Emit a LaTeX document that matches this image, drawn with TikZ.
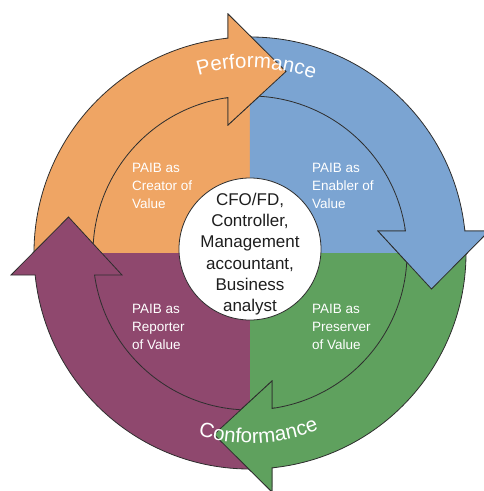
\documentclass[tikz,border=0pt]{standalone}
\usepackage{fontspec}
\setmainfont{Liberation Sans}
\usetikzlibrary{decorations.text}
\definecolor{perforange}{RGB}{239,165,100}
\definecolor{enablblue}{RGB}{123,164,210}
\definecolor{presgreen}{RGB}{95,161,94}
\definecolor{reppurple}{RGB}{143,72,110}
\definecolor{edgegray}{RGB}{45,45,45}
\definecolor{hubink}{RGB}{30,30,30}
\tikzset{
  band/.style={draw=edgegray, line width=0.8pt, line join=miter},
  lbl/.style={font=\fontsize{13.5}{18}\selectfont, text=white, align=left,
    anchor=north west, inner sep=0pt},
  hubdisc/.style={circle, draw=edgegray, line width=0.8pt, fill=white,
    minimum size=142pt, inner sep=0pt},
  hubtext/.style={font=\fontsize{17}{21.3}\selectfont, text=hubink, align=center,
    inner sep=0pt},
  arctext/.style={decorate, decoration={text along path, text align=center,
    text color=white, text={|\fontsize{20.5}{20.5}\selectfont|#1}}},
}
% one ring arrow, drawn for the top (orange) place
\newcommand{\ringarrow}{(185:216pt) arc[start angle=185, end angle=95.85, radius=216pt]
  -- (-22pt,239pt) -- (36pt,181.5pt) -- (-22pt,128pt)
  -- (98.06:157pt) arc[start angle=98.06, end angle=185, radius=157pt] -- cycle}

\begin{document}
\begin{tikzpicture}
      \useasboundingbox (-250pt,-238pt) rectangle (233pt,253pt);
      % the four quarters inside the ring
      \fill[perforange] (0,0) -- (90:157pt) arc[start angle=90, end angle=180, radius=157pt] -- cycle;
      \fill[enablblue]  (0,0) -- (0:157pt) arc[start angle=0, end angle=90, radius=157pt] -- cycle;
      \fill[presgreen]  (0,0) -- (-90:157pt) arc[start angle=-90, end angle=0, radius=157pt] -- cycle;
      \fill[reppurple]  (0,0) -- (180:157pt) arc[start angle=180, end angle=270, radius=157pt] -- cycle;
      % the ring arrows, clockwise from the top
      \foreach \col [count=\k from 0] in {perforange,enablblue,presgreen,reppurple} {
        \begin{scope}[rotate=-90*\k]
          \draw[band, fill=\col] \ringarrow;
        \end{scope}
      }
      % heads back over the next tail
      \foreach \col [count=\k from 0] in {perforange,enablblue,presgreen} {
        \begin{scope}[rotate=-90*\k]
          \clip (-25pt,110pt) rectangle (60pt,250pt);
          \draw[band, fill=\col] \ringarrow;
        \end{scope}
      }
      % the hub
      \node[hubdisc] (hub) at (0,4pt) {};
      \node[hubtext] (roles) at (0,-1pt) {CFO/FD,\\Controller,\\Management\\accountant,\\Business\\analyst};
      % the quarter labels
      \node[lbl] (creator)   at (-118pt,90pt)  {PAIB as\\Creator of\\Value};
      \node[lbl] (enabler)   at (62pt,90pt)    {PAIB as\\Enabler of\\Value};
      \node[lbl] (reporter)  at (-118pt,-51pt) {PAIB as\\Reporter\\of Value};
      \node[lbl] (preserver) at (62pt,-51pt)   {PAIB as\\Preserver\\of Value};
      % the words round the ring
      \path[arctext=Performance] (148:185pt) arc[start angle=148, end angle=28, radius=185pt];
      \path[arctext=Conformance] (-147.3:190pt) arc[start angle=-147.3, end angle=-27.3, radius=190pt];
    \end{tikzpicture}
\end{document}
